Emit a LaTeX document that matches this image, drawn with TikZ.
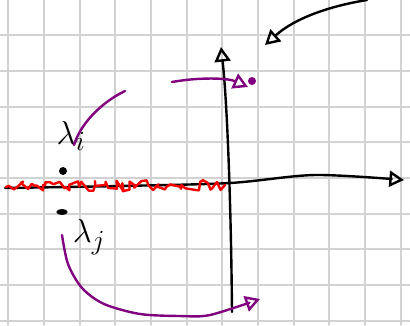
\documentclass[tikz,border=0pt]{standalone}
\usetikzlibrary{arrows.meta,decorations.pathmorphing,shapes.geometric}
\definecolor{plum}{RGB}{128,0,128}
\definecolor{cut}{RGB}{245,0,0}

\begin{document}
\begin{tikzpicture}[x=0.75pt,y=-0.75pt,line cap=round,line join=round,
  ink/.style={black,line width=1.8pt},
  orbit/.style={plum,line width=1.8pt},
  tip/.style={-{Triangle[open,length=11pt,width=12pt]}},
  dot/.style={circle,fill,inner sep=0pt,minimum size=6pt},
  lam/.style={font=\fontsize{32}{36}\selectfont}]
  \useasboundingbox (0,0) rectangle (410,325);
  \fill[white] (0,0) rectangle (410,325);

  % grid paper
  \foreach \x in {8,44,80,115,151,187,222,258,294,329,365,401}
    \draw[gray!35,line width=1.2pt] (\x,0) -- (\x,325);
  \foreach \y in {35,71,107,142,178,214,249,285,321}
    \draw[gray!35,line width=1.2pt] (0,\y) -- (410,\y);

  % axes
  \coordinate (im) at (221,47);
  \coordinate (re) at (404,180);
  \draw[ink,tip] (232,312) .. controls (231,200) and (227,100) .. (im);
  \draw[ink,tip] plot[smooth] coordinates {(5,188) (120,186) (230,183) (315,175) (re)};

  % branch cut
  \pgfmathsetseed{7}
  \draw[cut,line width=1.8pt,decorate,
    decoration={random steps,segment length=2.5pt,amplitude=4pt}] (6,187) -- (225,185);

  % eigenvalues
  \node[dot] (ei) at (63,171) {};
  \node[draw,ellipse,fill=black,inner sep=0pt,minimum width=8pt,minimum height=4pt] (ej) at (62,212) {};
  \node[lam] (li) at (71,136) {$\lambda_i$};
  \node[lam] (lj) at (89,237) {$\lambda_j$};
  \node[dot,plum] (pi) at (252,81) {};

  % paths round the branch point
  \coordinate (a0) at (125,91);
  \coordinate (a1) at (172,82);
  \coordinate (b0) at (62,235);
  \coordinate (b1) at (260,299);
  \draw[orbit] (a0) .. controls (100,103) and (80,125) .. (74,145);
  \draw[orbit,tip] (a1) .. controls (200,77) and (228,78) .. (248,87);
  \draw[orbit,tip] plot[smooth] coordinates {(b0) (68,264) (82,288) (104,304) (140,314) (180,316) (210,315) (b1)};

  % pointer
  \coordinate (p0) at (367,0);
  \coordinate (p1) at (265,45);
  \draw[ink,tip] (p0) .. controls (330,6) and (295,18) .. (p1);
\end{tikzpicture}
\end{document}
